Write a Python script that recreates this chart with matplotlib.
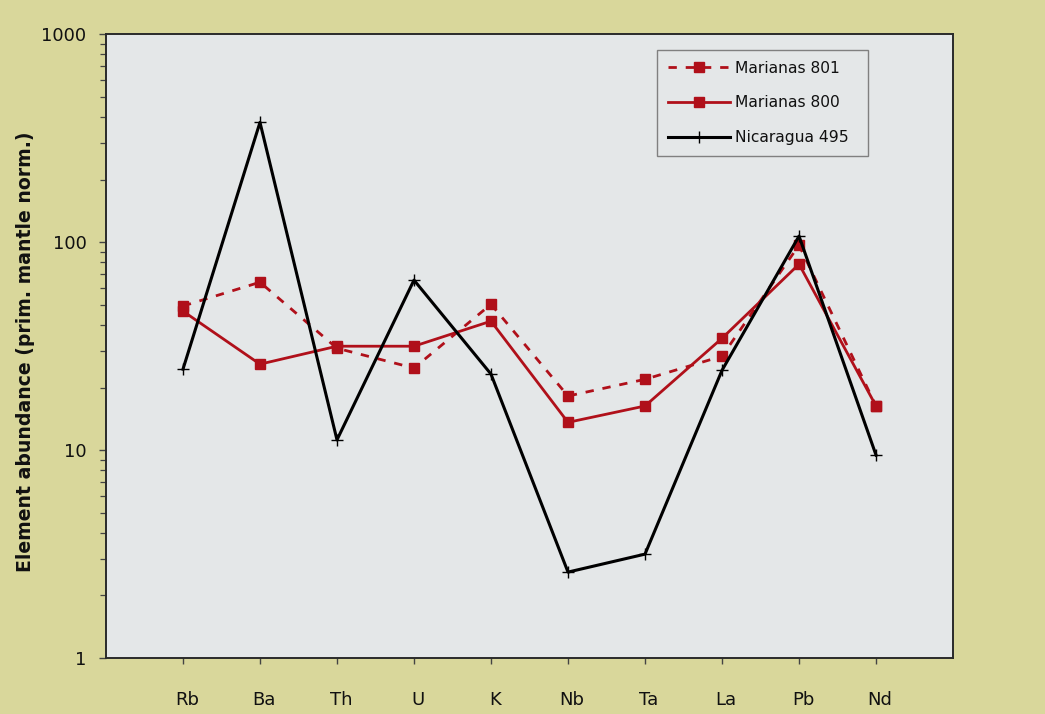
import matplotlib
matplotlib.use("Agg")
import matplotlib.pyplot as plt
import matplotlib.transforms as mtransforms
from matplotlib.ticker import LogLocator, FixedFormatter, FixedLocator, NullFormatter

# Element abundances normalised to primitive mantle
elements = ["Rb", "Ba", "Th", "U", "K", "Nb", "Ta", "La", "Pb", "Nd"]
marianas_801 = [49.3, 64.2, 30.9, 24.8, 50.3, 18.2, 21.9, 28.3, 96.8, 16.3]
marianas_800 = [46.6, 25.9, 31.6, 31.6, 41.7, 13.6, 16.3, 34.5, 78.4, 16.3]
nicaragua_495 = [24.5, 377, 11.2, 65.7, 23.2, 2.59, 3.16, 24.2, 107, 9.46]
series_labels = ["Marianas 801", "Marianas 800", "Nicaragua 495"]
y_ticks = [1, 10, 100, 1000]
y_tick_labels = ["1", "10", "100", "1000"]

fig_bg = "#d9d79b"
ax_bg = "#e4e7e8"
red = "#b0101a"

fig = plt.figure(figsize=(10.45, 7.14), dpi=100, facecolor=fig_bg)
ax = fig.add_axes([0.1014, 0.0784, 0.8106, 0.8736], facecolor=ax_bg)

x = list(range(len(elements)))

l801, = ax.plot(x, marianas_801, color=red, lw=2.0, linestyle=(0, (3.0, 3.2)),
                marker="s", markersize=6.5, markeredgecolor=red, markerfacecolor=red)
l800, = ax.plot(x, marianas_800, color=red, lw=2.0, linestyle="-",
                marker="s", markersize=6.5, markeredgecolor=red, markerfacecolor=red)
l495, = ax.plot(x, nicaragua_495, color="black", lw=2.2, linestyle="-",
                marker="+", markersize=8.5, markeredgewidth=1.0, markeredgecolor="black")

ax.set_yscale("log")
ax.set_ylim(1, 1000)
ax.set_xlim(-1, len(elements))

ax.yaxis.set_major_locator(FixedLocator(y_ticks))
ax.yaxis.set_major_formatter(FixedFormatter(y_tick_labels))
ax.yaxis.set_minor_locator(LogLocator(base=10, subs=range(2, 10)))
ax.yaxis.set_minor_formatter(NullFormatter())

ax.set_xticks(x)
ax.set_xticklabels(elements)

ax.tick_params(axis="y", which="major", direction="out", length=5, width=1.0,
               color="#444444", labelsize=13, pad=9, labelcolor="#111111")
ax.tick_params(axis="y", which="minor", direction="out", length=4, width=0.9,
               color="#444444")
ax.tick_params(axis="x", which="major", direction="out", length=4, width=1.0,
               color="#444444", labelsize=13, pad=20, labelcolor="#111111")

# nudge the element labels slightly to the right of their ticks
offset = mtransforms.ScaledTranslation(4 / 100, 0, fig.dpi_scale_trans)
for lbl in ax.get_xticklabels():
    lbl.set_transform(lbl.get_transform() + offset)

for side in ["left", "bottom", "top", "right"]:
    ax.spines[side].set_color("#2a2a2a")
    ax.spines[side].set_linewidth(1.4)

fig.text(0.024, 0.508, "Element abundance (prim. mantle norm.)", rotation=90,
         ha="center", va="center", fontsize=13.6, fontweight="bold", color="#111111")

# legend box spanning a fixed width in the upper right of the plot
leg_left, leg_top, leg_width = 657 / 1045, 1 - 50 / 714, 211 / 1045
leg = ax.legend([l801, l800, l495], series_labels,
                loc="upper left", mode="expand",
                bbox_to_anchor=(leg_left, leg_top - 0.01, leg_width, 0.01),
                bbox_transform=fig.transFigure, fontsize=11.2,
                frameon=True, fancybox=False, facecolor=ax_bg, edgecolor="#808080",
                framealpha=1, handlelength=4.0, handletextpad=0.35,
                labelspacing=1.28, borderpad=0.68, borderaxespad=0)
leg.get_frame().set_linewidth(1.0)
for t in leg.get_texts():
    t.set_color("#111111")

fig.savefig("out.png", dpi=100, facecolor=fig_bg)
